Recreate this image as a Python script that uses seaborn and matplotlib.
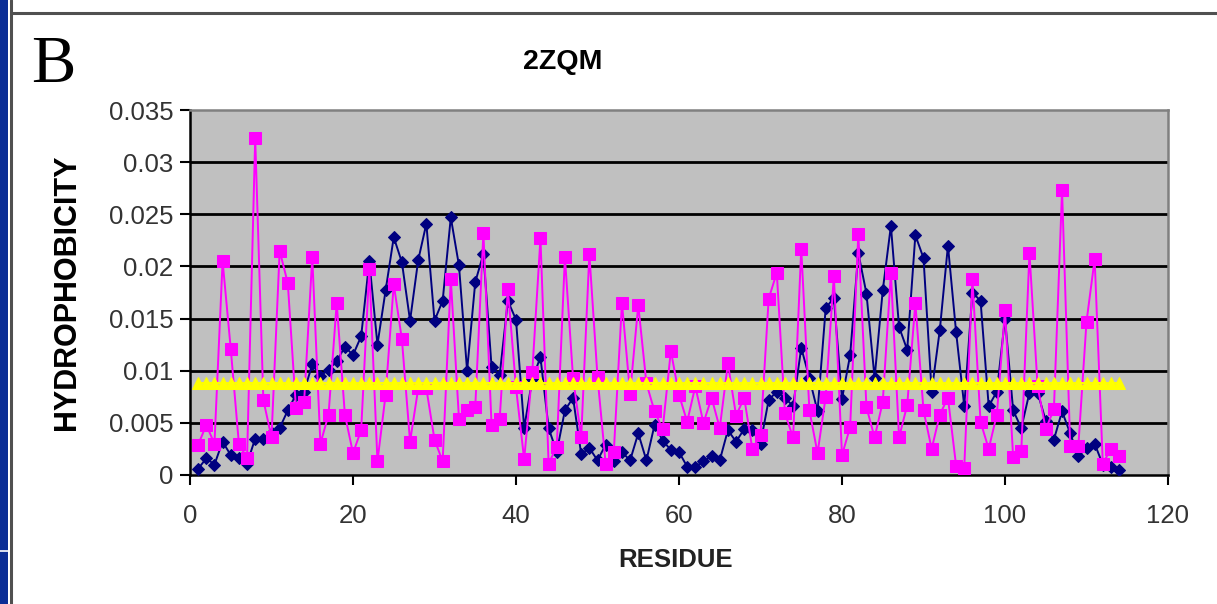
import matplotlib
matplotlib.use("Agg")
import matplotlib.pyplot as plt
import seaborn as sns
import pandas as pd
from matplotlib.patches import Rectangle
from matplotlib.lines import Line2D

# ---------------- data ----------------
residues = list(range(1, 115))

series_navy = [
    0.0006, 0.0016, 0.0010, 0.0032, 0.0019, 0.0016, 0.0011, 0.0035, 0.0035, 0.0040,
    0.0045, 0.0062, 0.0077, 0.0080, 0.0106, 0.0095, 0.0101, 0.0109, 0.0123, 0.0115,
    0.0133, 0.0205, 0.0125, 0.0177, 0.0228, 0.0204, 0.0148, 0.0206, 0.0241, 0.0148,
    0.0167, 0.0247, 0.0201, 0.0100, 0.0185, 0.0212, 0.0104, 0.0096, 0.0167, 0.0149,
    0.0045, 0.0092, 0.0113, 0.0045, 0.0022, 0.0062, 0.0074, 0.0020, 0.0026, 0.0014,
    0.0029, 0.0013, 0.0022, 0.0014, 0.0040, 0.0014, 0.0048, 0.0033, 0.0024, 0.0022,
    0.0008, 0.0008, 0.0013, 0.0018, 0.0014, 0.0043, 0.0032, 0.0044, 0.0043, 0.0030,
    0.0072, 0.0080, 0.0074, 0.0066, 0.0122, 0.0093, 0.0061, 0.0160, 0.0170, 0.0073,
    0.0115, 0.0213, 0.0174, 0.0093, 0.0177, 0.0239, 0.0142, 0.0120, 0.0230, 0.0208,
    0.0080, 0.0139, 0.0220, 0.0137, 0.0066, 0.0175, 0.0167, 0.0066, 0.0080, 0.0150,
    0.0062, 0.0045, 0.0079, 0.0079, 0.0052, 0.0034, 0.0061, 0.0040, 0.0018, 0.0026,
    0.0030, 0.0010, 0.0008, 0.0005,
]

series_pink = [
    0.0029, 0.0048, 0.0030, 0.0205, 0.0121, 0.0030, 0.0016, 0.0323, 0.0072, 0.0036,
    0.0215, 0.0184, 0.0064, 0.0070, 0.0209, 0.0030, 0.0058, 0.0165, 0.0058, 0.0021,
    0.0043, 0.0198, 0.0013, 0.0077, 0.0183, 0.0130, 0.0032, 0.0083, 0.0083, 0.0034,
    0.0013, 0.0188, 0.0054, 0.0062, 0.0065, 0.0232, 0.0048, 0.0054, 0.0178, 0.0084,
    0.0015, 0.0099, 0.0227, 0.0011, 0.0027, 0.0209, 0.0093, 0.0036, 0.0212, 0.0094,
    0.0011, 0.0022, 0.0165, 0.0078, 0.0163, 0.0088, 0.0061, 0.0044, 0.0119, 0.0077,
    0.0051, 0.0085, 0.0050, 0.0074, 0.0045, 0.0107, 0.0057, 0.0074, 0.0025, 0.0038,
    0.0169, 0.0194, 0.0059, 0.0036, 0.0217, 0.0062, 0.0021, 0.0075, 0.0191, 0.0019,
    0.0046, 0.0231, 0.0065, 0.0036, 0.0070, 0.0194, 0.0036, 0.0067, 0.0165, 0.0062,
    0.0025, 0.0058, 0.0074, 0.0009, 0.0007, 0.0188, 0.0051, 0.0025, 0.0058, 0.0158,
    0.0017, 0.0023, 0.0213, 0.0085, 0.0044, 0.0063, 0.0273, 0.0028, 0.0028, 0.0147,
    0.0207, 0.0011, 0.0025, 0.0018,
]

mean_level = 0.0088
series_yellow = [mean_level] * len(residues)

y_ticks = [0, 0.005, 0.01, 0.015, 0.02, 0.025, 0.03, 0.035]
y_tick_labels = ["0", "0.005", "0.01", "0.015", "0.02", "0.025", "0.03", "0.035"]
x_ticks = [0, 20, 40, 60, 80, 100, 120]

title = "2ZQM"
panel_letter = "B"
x_label = "RESIDUE"
y_label = "HYDROPHOBICITY"

# ---------------- figure ----------------
sns.set_theme(style="white")
plt.rcParams["font.family"] = ["Liberation Sans", "DejaVu Sans"]

W, H = 1217, 604
fig = plt.figure(figsize=(W / 100, H / 100), dpi=100)
fig.patch.set_facecolor("white")

def fx(px):
    return px / W

def fy(py):
    return 1 - py / H

ax = fig.add_axes([fx(190), fy(475), fx(1168) - fx(190), fy(110) - fy(475)])
ax.set_facecolor("#C0C0C0")

df_navy = pd.DataFrame({"residue": residues, "value": series_navy})
df_pink = pd.DataFrame({"residue": residues, "value": series_pink})
df_yel = pd.DataFrame({"residue": residues, "value": series_yellow})

sns.lineplot(data=df_navy, x="residue", y="value", ax=ax, color="#000080",
             linewidth=1.4, marker="D", markersize=6.5, markeredgecolor="#000080",
             markerfacecolor="#000080", zorder=3)
sns.lineplot(data=df_pink, x="residue", y="value", ax=ax, color="#FF00FF",
             linewidth=1.4, marker="s", markersize=8, markeredgecolor="#FF00FF",
             markerfacecolor="#FF00FF", zorder=4)
sns.lineplot(data=df_yel, x="residue", y="value", ax=ax, color="#FFFF00",
             linewidth=1.4, marker="^", markersize=8.5, markeredgecolor="#FFFF00",
             markerfacecolor="#FFFF00", zorder=5)

ax.set_xlim(0, 120)
ax.set_ylim(0, 0.035)
ax.set_yticks(y_ticks)
ax.set_yticklabels(y_tick_labels)
ax.set_xticks(x_ticks)

for yv in y_ticks[1:-1]:
    ax.axhline(yv, color="black", linewidth=2.0, zorder=1)

ax.tick_params(axis="both", direction="out", length=7, width=1.5, color="black",
               labelsize=18.5, labelcolor="#333333")
ax.tick_params(axis="y", left=True, pad=5)
ax.tick_params(axis="x", bottom=True, pad=14)

for side in ["left", "bottom"]:
    ax.spines[side].set_color("black")
    ax.spines[side].set_linewidth(1.8)
for side in ["top", "right"]:
    ax.spines[side].set_color("#808080")
    ax.spines[side].set_linewidth(1.8)

fig.text(fx(676), fy(560), x_label, fontsize=18.5, fontweight="bold",
         color="#222222", ha="center", va="center")
fig.text(fx(67), fy(292), y_label, fontsize=22, fontweight="bold", color="black",
         ha="center", va="center", rotation=90)
ax.set_xlabel("")
ax.set_ylabel("")

fig.text(fx(563), fy(62), title, fontsize=20.5, fontweight="bold", ha="center",
         va="center", color="black")
fig.text(fx(53), fy(66), panel_letter, fontsize=48, ha="center", va="center",
         color="black", family=["Liberation Serif", "DejaVu Serif"])

# slide frame decorations
fig.add_artist(Rectangle((0, 0), fx(8), 1, transform=fig.transFigure,
                         facecolor="#0B2D96", edgecolor="none"))
fig.add_artist(Line2D([0, fx(8)], [fy(551), fy(551)], transform=fig.transFigure,
                      color="white", linewidth=1.2))
fig.add_artist(Line2D([fx(11), fx(11)], [0, 1], transform=fig.transFigure,
                      color="#505050", linewidth=2.2))
fig.add_artist(Line2D([fx(11), 1], [fy(13), fy(13)], transform=fig.transFigure,
                      color="#505050", linewidth=2.2))

fig.savefig("out.png", dpi=100)
